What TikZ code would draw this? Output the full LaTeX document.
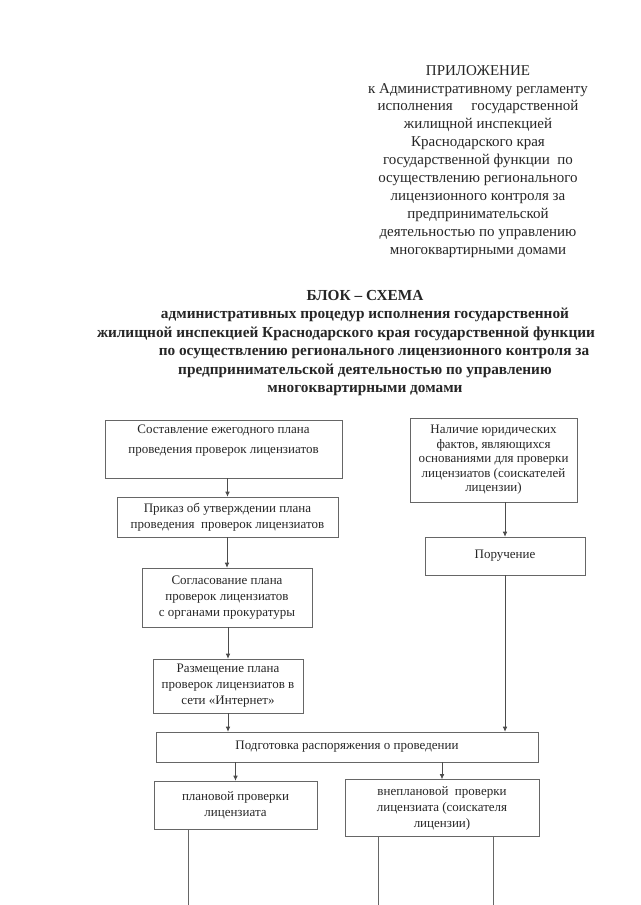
\documentclass[tikz,border=0pt]{standalone}
\usepackage{fontspec}
\setmainfont{Liberation Serif}
\usepackage{tikz}
\usetikzlibrary{arrows.meta, positioning, calc}

\begin{document}
\begin{tikzpicture}[x=1pt, y=-1pt,
    every node/.style={text=black!85, inner sep=0pt},
    blk/.style={draw=black!60, line width=0.6pt, align=center,
      font=\fontsize{13}{16}\selectfont},
    arr/.style={draw=black!70, line width=0.6pt, -{Latex[length=5pt,width=4.5pt]}},
    ln/.style={draw=black!60, line width=0.6pt}]
  \useasboundingbox (0,0) rectangle (640,905);
  \node[anchor=north, align=center, font=\fontsize{15}{17.9}\selectfont] (prilozh) at (478,65)
    {ПРИЛОЖЕНИЕ\\к Административному регламенту\\исполнения\quad\ государственной\\
     жилищной инспекцией\\Краснодарского края\\государственной функции\ \ по\\
     осуществлению регионального\\лицензионного контроля за\\предпринимательской\\
     деятельностью по управлению\\многоквартирными домами};
  \node[anchor=north, align=center, font=\fontsize{15.3}{18.5}\selectfont\bfseries] (title) at (365,290)
    {БЛОК -- СХЕМА\\административных процедур исполнения государственной\\
     \hspace*{-38pt}жилищной инспекцией Краснодарского края государственной функции\\
     \hspace*{18pt}по осуществлению регионального лицензионного контроля за\\
     предпринимательской деятельностью по управлению\\многоквартирными домами};

  \node[blk, minimum width=237pt, minimum height=58pt, font=\fontsize{13}{20}\selectfont] (plan) at (223.5,449)
    {Составление ежегодного плана\\проведения проверок лицензиатов\\\mbox{}};
  \node[blk, minimum width=221pt, minimum height=40pt] (prikaz) at (227.5,517)
    {Приказ об утверждении плана\\проведения\ \ проверок лицензиатов};
  \node[blk, minimum width=170pt, minimum height=59pt] (soglas) at (227,597.5)
    {Согласование плана\\проверок лицензиатов\\с органами прокуратуры};
  \node[blk, minimum width=150pt, minimum height=54pt] (razmesh) at (228,686)
    {Размещение плана\\проверок лицензиатов в\\сети «Интернет»};
  \node[blk, minimum width=167pt, minimum height=84pt, font=\fontsize{13}{14.5}\selectfont] (fakty) at (493.5,460)
    {Наличие юридических\\фактов, являющихся\\основаниями для проверки\\лицензиатов (соискателей\\лицензии)};
  \node[blk, minimum width=160pt, minimum height=38pt] (poruch) at (505,556) {Поручение};
  \node[blk, minimum width=382pt, minimum height=30pt] (podgot) at (347,747)
    {Подготовка распоряжения о проведении};
  \node[blk, minimum width=163pt, minimum height=48pt] (planov) at (235.5,805)
    {плановой проверки\\лицензиата};
  \node[blk, minimum width=194pt, minimum height=57pt] (vneplan) at (442,808)
    {внеплановой\ \ проверки\\лицензиата (соискателя\\лицензии)};

  \coordinate (planEnd) at (188,905);
  \coordinate (vneEndA) at (378,905);
  \coordinate (vneEndB) at (493,905);

  \draw[arr] (prikaz.north |- plan.south) -- (prikaz.north);
  \draw[arr] (soglas.north |- prikaz.south) -- (soglas.north);
  \draw[arr] (razmesh.north |- soglas.south) -- (razmesh.north);
  \draw[arr] (razmesh.south) -- (razmesh.south |- podgot.north);
  \draw[arr] (poruch.north |- fakty.south) -- (poruch.north);
  \draw[arr] (poruch.south) -- (poruch.south |- podgot.north);
  \draw[arr] (planov.north |- podgot.south) -- (planov.north);
  \draw[arr] (vneplan.north |- podgot.south) -- (vneplan.north);
  \draw[ln] (planov.south -| planEnd) -- (planEnd);
  \draw[ln] (vneplan.south -| vneEndA) -- (vneEndA);
  \draw[ln] (vneplan.south -| vneEndB) -- (vneEndB);
\end{tikzpicture}
\end{document}
